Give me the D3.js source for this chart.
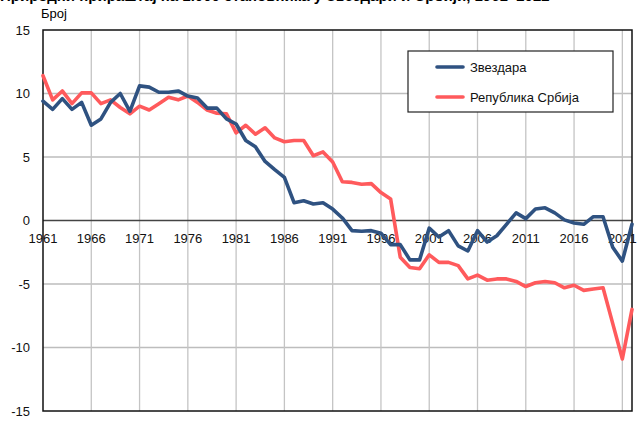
<!DOCTYPE html>
<html><head><meta charset="utf-8">
<script src="https://cdn.jsdelivr.net/npm/d3@7"></script>
<style>body{margin:0;background:#fff}svg{display:block;font-family:"Liberation Sans",Arial,sans-serif}</style>
</head><body><svg id="c" width="637" height="428"></svg>
<script>
const years = d3.range(1961, 2023);
const zvezdara = [9.4,8.75,9.6,8.75,9.3,7.5,8.0,9.3,10.0,8.6,10.6,10.5,10.1,10.1,10.2,9.8,9.65,8.85,8.85,8.0,
  7.6,6.3,5.8,4.65,4.0,3.4,1.4,1.55,1.3,1.4,0.9,0.2,-0.8,-0.85,-0.8,-1.0,-1.9,-1.9,-3.1,-3.1,
  -0.6,-1.3,-0.8,-2.0,-2.4,-0.8,-1.7,-1.2,-0.3,0.6,0.15,0.9,1.0,0.6,0.05,-0.2,-0.3,0.3,0.3,-2.1,-3.2,-0.3];
const srbija = [11.4,9.5,10.2,9.2,10.05,10.05,9.2,9.5,8.9,8.4,9.0,8.7,9.2,9.7,9.5,9.8,9.3,8.7,8.45,8.4,
  6.9,7.5,6.8,7.3,6.5,6.2,6.3,6.3,5.1,5.4,4.6,3.05,3.0,2.85,2.9,2.2,1.7,-2.9,-3.7,-3.8,
  -2.7,-3.3,-3.3,-3.55,-4.6,-4.3,-4.7,-4.6,-4.6,-4.8,-5.2,-4.9,-4.8,-4.9,-5.3,-5.1,-5.5,-5.4,-5.3,-8.1,-10.9,-7.0];
const xTicks = [1961,1966,1971,1976,1981,1986,1991,1996,2001,2006,2011,2016,2021];
const yTicks = [15,10,5,0,-5,-10,-15];
const seriesNames = ["Звездара","Република Србија"];
const colors = ["#2f5281","#ff5a5c"];
const titleText = "Природни прираштај на 1.000 становника у Звездари и Србији, 1961–2022";

const svg = d3.select("#c");
const L=43,R=632,T=30,B=411;
const x = d3.scaleLinear().domain([1961,2022]).range([L,R]);
const y = d3.scaleLinear().domain([-15,15]).range([B,T]);

// title (cut off at top, as in the reference)
svg.append("text").attr("x",0).attr("y",1).attr("font-size",15).attr("font-weight","bold").attr("fill","#000").text(titleText);
svg.append("text").attr("x",41).attr("y",18).attr("font-size",13).attr("fill","#000").text("Број");

// grid
const g = svg.append("g");
g.selectAll(".hg").data(yTicks.filter(d=>d!==0 && d!==15 && d!==-15)).join("line")
  .attr("x1",L).attr("x2",R).attr("y1",d=>y(d)).attr("y2",d=>y(d)).attr("stroke","#bdbdbd").attr("stroke-width",1.3);
g.selectAll(".vg").data(xTicks.slice(1)).join("line")
  .attr("x1",d=>x(d)).attr("x2",d=>x(d)).attr("y1",T).attr("y2",B).attr("stroke","#c4c4c4").attr("stroke-width",1.3);
g.append("line").attr("x1",L).attr("x2",R).attr("y1",y(0)).attr("y2",y(0)).attr("stroke","#444").attr("stroke-width",1.3);
svg.append("rect").attr("x",L).attr("y",T).attr("width",R-L).attr("height",B-T).attr("fill","none").attr("stroke","#111").attr("stroke-width",1.5);

svg.selectAll(".yl").data(yTicks).join("text").attr("x",30).attr("y",d=>y(d)+4.5)
  .attr("text-anchor","end").attr("font-size",13).attr("fill","#111").text(d=>d);
svg.selectAll(".xl").data(xTicks).join("text").attr("x",d=>x(d)).attr("y",y(0)+22)
  .attr("text-anchor","middle").attr("font-size",13).attr("fill","#111").text(d=>d);

const line = d3.line().x((d,i)=>x(years[i])).y(d=>y(d));
[[srbija,colors[1]],[zvezdara,colors[0]]].forEach(([s,c])=>{
  svg.append("path").attr("d",line(s)).attr("fill","none").attr("stroke",c)
    .attr("stroke-width",3.6).attr("stroke-linejoin","round").attr("stroke-linecap","round");
});

const lg = svg.append("g");
lg.append("rect").attr("x",408).attr("y",51).attr("width",205).attr("height",61).attr("fill","#fff").attr("stroke","#222").attr("stroke-width",1.2);
seriesNames.forEach((n,i)=>{
  const yy = 67 + i*30;
  lg.append("line").attr("x1",437).attr("x2",463).attr("y1",yy).attr("y2",yy).attr("stroke",colors[i]).attr("stroke-width",3.6).attr("stroke-linecap","round");
  lg.append("text").attr("x",470).attr("y",yy+4.5).attr("font-size",13).attr("fill","#111").text(n);
});
</script></body></html>
